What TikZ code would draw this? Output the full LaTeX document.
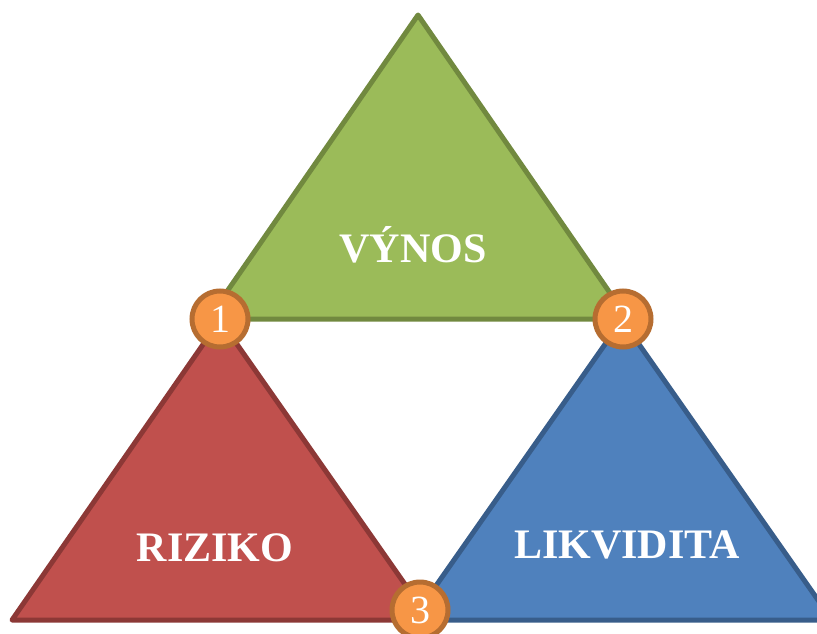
\documentclass[tikz,border=0pt]{standalone}
\usepackage{fontspec}
\setmainfont{Liberation Serif}
\definecolor{gfill}{HTML}{9BBB59}
\definecolor{gline}{HTML}{71893F}
\definecolor{rfill}{HTML}{C0504D}
\definecolor{rline}{HTML}{8C3836}
\definecolor{bfill}{HTML}{4F81BD}
\definecolor{bline}{HTML}{385D8A}
\definecolor{ofill}{HTML}{F79646}
\definecolor{oline}{HTML}{B66D31}
\tikzset{
  tri/.style={line width=5pt, line join=round},
  lbl/.style={text=white, font=\fontsize{42}{42}\selectfont\bfseries},
  num/.style={circle, minimum size=56pt, inner sep=0pt, fill=ofill, draw=oline, line width=5pt, text=white, font=\fontsize{40}{40}\selectfont}
}
\begin{document}
\begin{tikzpicture}[x=1pt,y=-1pt]
\useasboundingbox (0,0) rectangle (817,634);
\begin{scope}
\clip (0,0) rectangle (817,634);
\draw[tri, fill=gfill, draw=gline] (418,15) -- (628,319) -- (208,319) -- cycle;
\draw[tri, fill=rfill, draw=rline] (220,320) -- (430,620) -- (12,620) -- cycle;
\draw[tri, fill=bfill, draw=bline] (622,320) -- (832,620) -- (412,620) -- cycle;
\node[lbl] (vynos) at (413,245) {VÝNOS};
\node[lbl] (riziko) at (215,548) {RIZIKO};
\node[lbl] (likv) at (627,545) {LIKVIDITA};
\node[num] (n1) at (220,319) {1};
\node[num] (n2) at (623,319) {2};
\node[num] (n3) at (420,610) {3};
\end{scope}
\end{tikzpicture}
\end{document}
